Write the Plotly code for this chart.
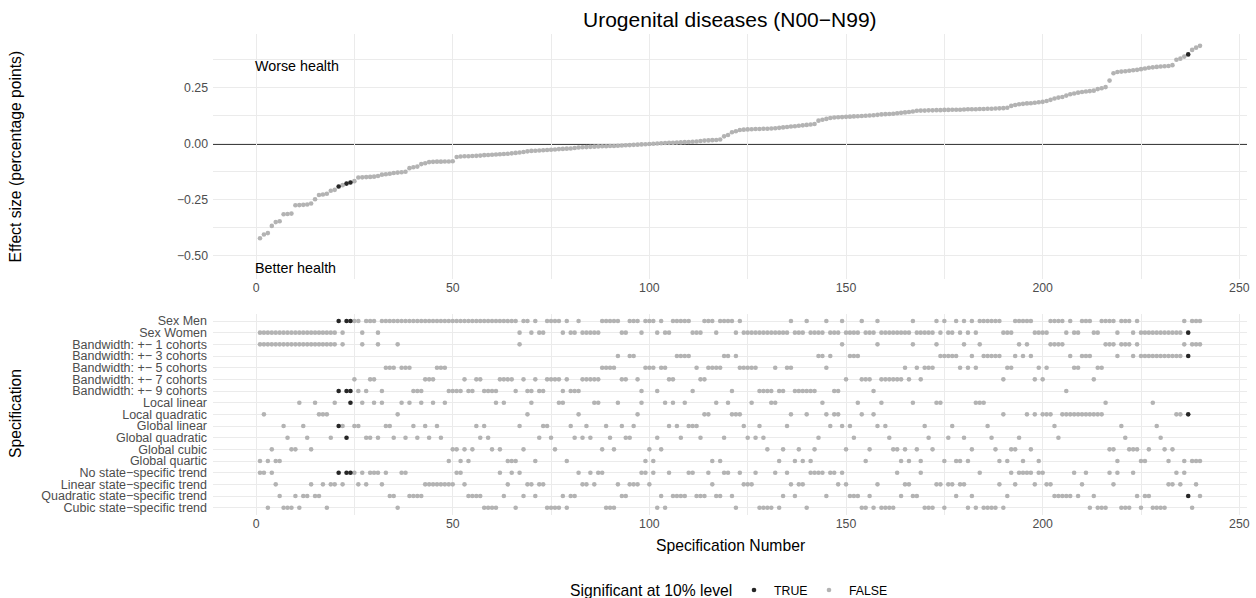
import plotly.graph_objects as go

# ---------------- data ----------------
spec = list(range(1, 241))

effect = [
    -0.421, -0.404, -0.398, -0.366, -0.349, -0.345, -0.314, -0.313, -0.311, -0.274,
    -0.273, -0.272, -0.270, -0.266, -0.247, -0.228, -0.226, -0.222, -0.209, -0.205,
    -0.190, -0.184, -0.177, -0.172, -0.166, -0.150, -0.149, -0.148, -0.147, -0.146,
    -0.143, -0.137, -0.135, -0.133, -0.130, -0.128, -0.126, -0.124, -0.108, -0.104,
    -0.101, -0.090, -0.086, -0.081, -0.080, -0.079, -0.079, -0.078, -0.078, -0.077,
    -0.058, -0.056, -0.055, -0.055, -0.054, -0.053, -0.052, -0.050, -0.049, -0.048,
    -0.047, -0.046, -0.045, -0.044, -0.042, -0.040, -0.038, -0.036, -0.033, -0.031,
    -0.030, -0.029, -0.028, -0.027, -0.026, -0.025, -0.023, -0.022, -0.021, -0.020,
    -0.018, -0.016, -0.015, -0.014, -0.013, -0.012, -0.011, -0.010, -0.010, -0.009,
    -0.009, -0.008, -0.007, -0.006, -0.005, -0.004, -0.003, -0.002, -0.001, 0.000,
    0.001, 0.002, 0.003, 0.004, 0.005, 0.005, 0.006, 0.007, 0.008, 0.009,
    0.010, 0.011, 0.013, 0.015, 0.016, 0.017, 0.018, 0.020, 0.034, 0.040,
    0.052, 0.057, 0.062, 0.064, 0.065, 0.066, 0.067, 0.067, 0.068, 0.068,
    0.069, 0.070, 0.072, 0.074, 0.076, 0.078, 0.079, 0.081, 0.083, 0.085,
    0.087, 0.089, 0.104, 0.108, 0.112, 0.116, 0.118, 0.119, 0.120, 0.121,
    0.122, 0.123, 0.124, 0.125, 0.126, 0.127, 0.128, 0.130, 0.132, 0.133,
    0.134, 0.135, 0.137, 0.139, 0.141, 0.143, 0.145, 0.148, 0.149, 0.149,
    0.150, 0.150, 0.151, 0.151, 0.152, 0.152, 0.153, 0.153, 0.153, 0.154,
    0.155, 0.155, 0.155, 0.156, 0.156, 0.157, 0.157, 0.158, 0.159, 0.160,
    0.162, 0.170, 0.174, 0.177, 0.179, 0.181, 0.182, 0.184, 0.186, 0.188,
    0.192, 0.197, 0.203, 0.207, 0.210, 0.216, 0.222, 0.225, 0.229, 0.232,
    0.234, 0.236, 0.238, 0.245, 0.249, 0.254, 0.283, 0.316, 0.321, 0.323,
    0.325, 0.327, 0.329, 0.331, 0.334, 0.337, 0.340, 0.342, 0.344, 0.346,
    0.347, 0.348, 0.352, 0.376, 0.381, 0.390, 0.400, 0.420, 0.430, 0.438,
]

# sex: M = men, W = women (one character per specification, 10 per chunk)
sex_codes = "".join([
    "WWWWWWWWWW", "WWWWWWWWWW", "MWMMMMWMMM", "WMMMMMMMMM", "MMMMMMMMMM",
    "MMMMMMMMMM", "MMMMMMWMMW", "MWWMMMMWMW", "WMWWWWWMMM", "MMWWMMMWMM",
    "MWMWWMMMMM", "WWWMMMWMMM", "MWMWWWWWWW", "WWWWWMWWWM", "WWWWMWWWMW",
    "WWWMWWWMWW", "WWWWWWMWWW", "WWMWMWWMWM", "WMWMMMMMMW", "WWMMMMMWWW",
    "WMMMMWMWWM", "MMWWMMMMWM", "MMWMWWWWWW", "WWWWWMWMMM",
])

# bandwidth in cohorts
bw_codes = "".join([
    "1111111111", "1111111111", "9199791977", "1955515559", "9977755599",
    "9979977999", "9777791799", "7997777979", "9977777555", "5377337955",
    "5955773333", "9577555533", "9355555999", "9599559999", "9933539917",
    "3337779177", "7777571575", "5513333351", "5351333337", "5531313757",
    "5111193553", "3375511131", "1131333333", "3333313111",
])

# polynomial: L local linear, Q local quadratic, 1..4 global linear..quartic
poly_codes = "".join([
    "4Q43441233", "L123LQQQ2L", "112L11L22L", "2L112QL2L1", "2L12L12L43",
    "3434312123", "L3L44413QL", "421123LL41", "2Q212LL312", "3L1221QL43",
    "423L1L12L1", "112QQ4L42L", "QQQ12L2123", "LL431Q434Q", "432LQ1QQ13",
    "12LQ43Q1L1", "233434L341", "23LL421442", "43LLL1234Q", "43324Q3Q4Q",
    "QQ12QQQQQQ", "QQQQQL3341", "2333443L12", "343QQ4Q444",
])

# state-specific trend: n none, l linear, q quadratic, c cubic
trend_codes = "".join([
    "nncnlqcccq", "cqqlqqlcll", "nlnnnlnlnn", "nlnqqcnnqq", "qqllllllll",
    "nnlqqqqccc", "cnqlncnqll", "qllccccqcq", "qnllnlnncc", "clqqlllnnl",
    "ncqcnqqqqn", "nqqqnlqqnn", "qcnlllnccc", "cncqnlqllc", "nnnnqnnlnl",
    "qqqccqclcc", "ccnqllqqnc", "ccllcllqll", "cqcncccclc", "qnlnnnnlnn",
    "llqqqqqnql", "ncqcccnlnc", "ccnqcqqccc", "cllnlnqclq",
])

significant_specs = [21, 23, 24, 237]

M = "\u2212"
sex_labels = {"M": "Sex Men", "W": "Sex Women"}
bw_labels = {k: f"Bandwidth: +{M} {k} cohorts" for k in "13579"}
poly_labels = {"L": "Local linear", "Q": "Local quadratic", "1": "Global linear",
               "2": "Global quadratic", "3": "Global cubic", "4": "Global quartic"}
trend_labels = {"n": f"No state{M}specific trend", "l": f"Linear state{M}specific trend",
                "q": f"Quadratic state{M}specific trend", "c": f"Cubic state{M}specific trend"}

row_order = (list(sex_labels.values()) + list(bw_labels.values())
             + list(poly_labels.values()) + list(trend_labels.values()))  # top -> bottom

x_ticks = [0, 50, 100, 150, 200, 250]
x_minor = [25, 75, 125, 175, 225]
y_ticks = [-0.5, -0.25, 0, 0.25]
y_minor = [-0.375, -0.125, 0.125, 0.375]

notes = [("Worse health", 0, 0.35), ("Better health", 0, -0.553)]

# ---------------- figure ----------------
W, H = 1256, 598
GRAY = "#B3B3B3"
BLACK = "#262626"
FONT = "Liberation Sans, Arial, sans-serif"
TXT = "#4D4D4D"
GRID = "#EBEBEB"


def py(v):
    """pixel row (from top) -> paper fraction"""
    return 1 - v / H


def px(v):
    return v / W


sig = [s in significant_specs for s in spec]

fig = go.Figure()

for flag, color, name, leg in [(False, GRAY, "FALSE", "legend2"), (True, BLACK, "TRUE", "legend")]:
    xs = [s for s, g in zip(spec, sig) if g == flag]
    ys = [e for e, g in zip(effect, sig) if g == flag]
    fig.add_trace(go.Scatter(x=xs, y=ys, mode="markers", name=name, legend=leg,
                             marker=dict(color=color, size=4.6, line=dict(width=0)),
                             xaxis="x", yaxis="y", hoverinfo="skip"))

long_x, long_y, long_s = [], [], []
for s, a, b, c, d, g in zip(spec, sex_codes, bw_codes, poly_codes, trend_codes, sig):
    for lab in (sex_labels[a], bw_labels[b], poly_labels[c], trend_labels[d]):
        long_x.append(s)
        long_y.append(lab)
        long_s.append(g)

for flag, color in [(False, GRAY), (True, BLACK)]:
    xs = [x for x, g in zip(long_x, long_s) if g == flag]
    ys = [y for y, g in zip(long_y, long_s) if g == flag]
    fig.add_trace(go.Scatter(x=xs, y=ys, mode="markers", showlegend=False,
                             marker=dict(color=color, size=4.6, line=dict(width=0)),
                             xaxis="x2", yaxis="y2", hoverinfo="skip"))

xdom = [px(213), px(1247)]
ydom_top = [py(279), py(34)]
ydom_bot = [py(514.7), py(314)]
xr = [-10.95, 251.95]

common_x = dict(range=xr, tickvals=x_ticks, showgrid=True, gridcolor=GRID, gridwidth=1.1,
                minor=dict(tickvals=x_minor, showgrid=True, gridcolor=GRID, gridwidth=0.55),
                zeroline=False, showline=False, ticks="",
                tickfont=dict(size=12.3, color=TXT, family=FONT), domain=xdom)

leg_common = dict(orientation="h", xanchor="left", yanchor="middle", y=py(590),
                  font=dict(size=12.3, color="black", family=FONT),
                  bgcolor="rgba(0,0,0,0)", borderwidth=0)

fig.update_layout(
    width=W, height=H, margin=dict(l=0, r=0, t=0, b=0, autoexpand=False),
    paper_bgcolor="white", plot_bgcolor="white",
    font=dict(family=FONT),
    xaxis=dict(anchor="y", **common_x),
    xaxis2=dict(anchor="y2", **common_x),
    yaxis=dict(domain=ydom_top, range=[-0.603, 0.491], tickvals=y_ticks, tickformat=".2f",
               showgrid=True, gridcolor=GRID, gridwidth=1.1,
               minor=dict(tickvals=y_minor, showgrid=True, gridcolor=GRID, gridwidth=0.55),
               zeroline=False, showline=False, ticks="", ticklabelstandoff=4,
               tickfont=dict(size=12.3, color=TXT, family=FONT), anchor="x"),
    yaxis2=dict(domain=ydom_bot, type="category", categoryorder="array",
                categoryarray=row_order[::-1], range=[-0.6, len(row_order) - 0.4],
                tickmode="array", tickvals=row_order, ticktext=row_order,
                showgrid=True, gridcolor=GRID, gridwidth=1.1, zeroline=False,
                showline=False, ticks="", ticklabelstandoff=5,
                tickfont=dict(size=12.5, color=TXT, family=FONT), anchor="x2"),
    showlegend=True,
    legend=dict(x=px(754 - 20), **leg_common),
    legend2=dict(x=px(829 - 20), **leg_common),
)

fig.add_shape(type="line", xref="x domain", yref="y", x0=0, x1=1, y0=0, y1=0,
              line=dict(color="black", width=1.4), layer="below")

ann = [
    dict(text="Urogenital diseases (N00\u2212N99)", x=px(730), y=py(20),
         font=dict(size=21, color="black")),
    dict(text="Effect size (percentage points)", x=px(15), y=py(156.5), textangle=-90,
         font=dict(size=15.7, color="black")),
    dict(text="Specification", x=px(15), y=py(414), textangle=-90,
         font=dict(size=15.7, color="black")),
    dict(text="Specification Number", x=px(730), y=py(545),
         font=dict(size=15.7, color="black")),
    dict(text="Significant at 10% level", x=px(650.8), y=py(590),
         font=dict(size=15.7, color="black")),
]
for a in ann:
    fig.add_annotation(xref="paper", yref="paper", showarrow=False,
                       xanchor="center", yanchor="middle", **a)
for text, nx, ny in notes:
    fig.add_annotation(xref="x", yref="y", x=nx, y=ny, text=text, showarrow=False,
                       xanchor="left", yanchor="middle", xshift=-3,
                       font=dict(size=14.3, color="black"))

fig.write_html("out.html")
